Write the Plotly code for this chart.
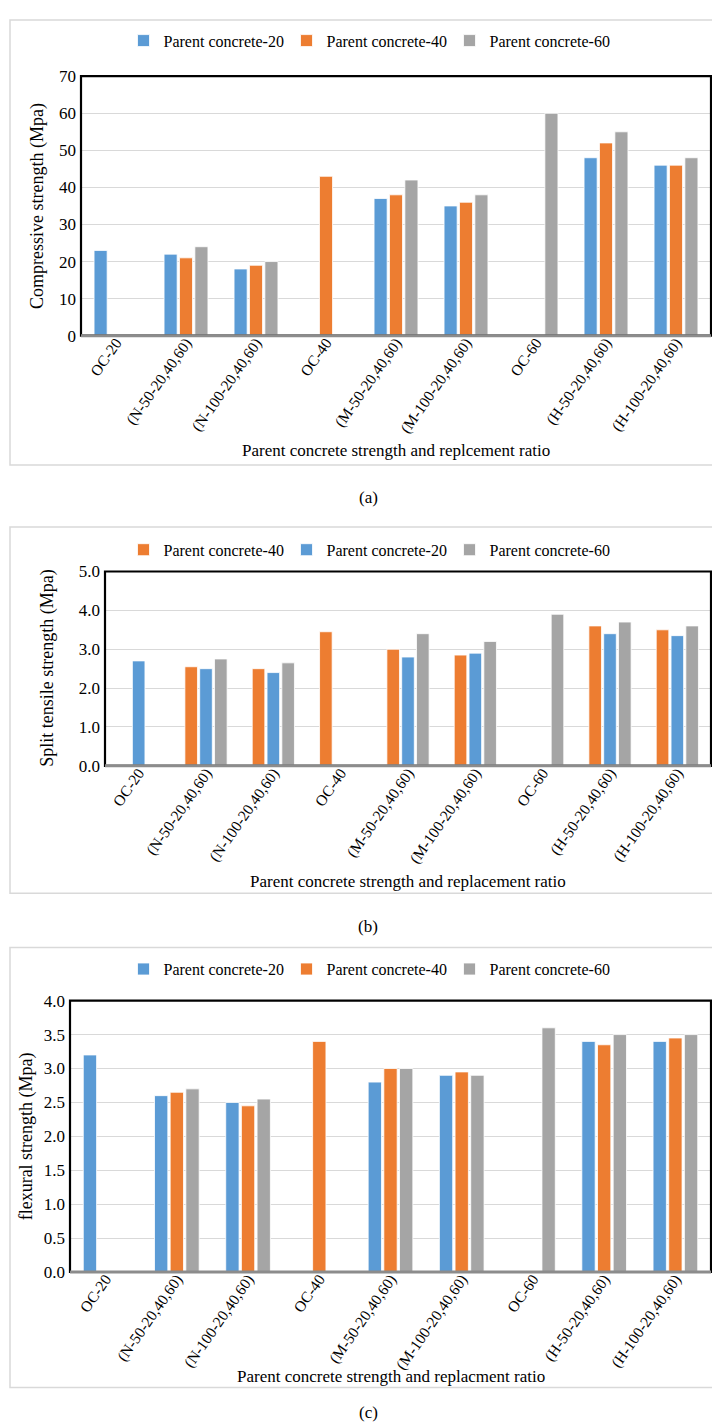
import plotly.graph_objects as go

W, H = 720, 1423

categories = ["OC-20", "(N-50-20,40,60)", "(N-100-20,40,60)", "OC-40", "(M-50-20,40,60)",
              "(M-100-20,40,60)", "OC-60", "(H-50-20,40,60)", "(H-100-20,40,60)"]

# (a) Compressive strength (MPa)
comp_pc20 = [23, 22, 18, None, 37, 35, None, 48, 46]
comp_pc40 = [None, 21, 19, 43, 38, 36, None, 52, 46]
comp_pc60 = [None, 24, 20, None, 42, 38, 60, 55, 48]

# (b) Split tensile strength (MPa) - legend order 40, 20, 60
split_pc40 = [None, 2.55, 2.5, 3.45, 3.0, 2.85, None, 3.6, 3.5]
split_pc20 = [2.7, 2.5, 2.4, None, 2.8, 2.9, None, 3.4, 3.35]
split_pc60 = [None, 2.75, 2.65, None, 3.4, 3.2, 3.9, 3.7, 3.6]

# (c) Flexural strength (MPa)
flex_pc20 = [3.2, 2.6, 2.5, None, 2.8, 2.9, None, 3.4, 3.4]
flex_pc40 = [None, 2.65, 2.45, 3.4, 3.0, 2.95, None, 3.35, 3.45]
flex_pc60 = [None, 2.7, 2.55, None, 3.0, 2.9, 3.6, 3.5, 3.5]

BLUE, ORANGE, GRAY = "#5B9BD5", "#ED7D31", "#A5A5A5"
FONT = "'Liberation Serif', 'Times New Roman', 'DejaVu Serif', serif"

def py(px):
    return 1 - px / H

def pxx(px):
    return px / W

fig = go.Figure()

def add_bar(name, vals, color, ax, leg):
    fig.add_trace(go.Bar(
        x=categories, y=vals, name=name,
        marker=dict(color=color, line=dict(color="white", width=0.8)),
        xaxis="x" + ax, yaxis="y" + ax, legend=leg,
    ))

add_bar("Parent concrete-20", comp_pc20, BLUE, "", "legend")
add_bar("Parent concrete-40", comp_pc40, ORANGE, "", "legend")
add_bar("Parent concrete-60", comp_pc60, GRAY, "", "legend")

add_bar("Parent concrete-40", split_pc40, ORANGE, "2", "legend2")
add_bar("Parent concrete-20", split_pc20, BLUE, "2", "legend2")
add_bar("Parent concrete-60", split_pc60, GRAY, "2", "legend2")

add_bar("Parent concrete-20", flex_pc20, BLUE, "3", "legend3")
add_bar("Parent concrete-40", flex_pc40, ORANGE, "3", "legend3")
add_bar("Parent concrete-60", flex_pc60, GRAY, "3", "legend3")

panels = [
    dict(s="", l=73, t=60, b=323, yr=[0, 70], dt=10, fmt="d", bt=3, bb=454, leg=24,
         ytitle="Compressive strength (Mpa)", ytx=30,
         xtitle="Parent concrete strength and replcement ratio", xty=439,
         cap="(a)", capy=487),
    dict(s="2", l=97, t=562, b=759, yr=[0, 5], dt=1, fmt=".1f", bt=517, bb=888, leg=540,
         ytitle="Split tensile strength (Mpa)", ytx=40,
         xtitle="Parent concrete strength and replacement ratio", xty=876,
         cap="(b)", capy=922),
    dict(s="3", l=62, t=997, b=1272, yr=[0, 4], dt=0.5, fmt=".1f", bt=943, bb=1389, leg=965,
         ytitle="flexural strength (Mpa)", ytx=18,
         xtitle="Parent concrete strength and replacment ratio", xty=1378,
         cap="(c)", capy=1414),
]

R = 703
shapes = []
annotations = []
layout = {}
for i, p in enumerate(panels):
    s = p["s"]
    layout["xaxis" + s] = dict(
        domain=[pxx(p["l"]), pxx(R)], anchor="y" + s,
        tickangle=-55, tickfont=dict(family=FONT, size=15.5, color="black"),
        showgrid=False, showline=False, ticks="", zeroline=False, fixedrange=True,
        ticklabelstandoff=-6,
    )
    layout["yaxis" + s] = dict(
        domain=[py(p["b"]), py(p["t"])], anchor="x" + s,
        range=p["yr"], dtick=p["dt"], tickformat=p["fmt"],
        tickfont=dict(family=FONT, size=17, color="black"),
        showgrid=True, gridcolor="#D9D9D9", gridwidth=1,
        showline=False, zeroline=False, ticks="", ticklabelstandoff=4,
    )
    legname = "legend" if s == "" else "legend" + s
    layout[legname] = dict(
        orientation="h", x=0.5, xanchor="center", y=py(p["leg"]), yanchor="middle",
        font=dict(family=FONT, size=16, color="black"), bgcolor="rgba(0,0,0,0)",
        traceorder="normal", entrywidth=118, entrywidthmode="pixels", itemwidth=30,
    )
    shapes.append(dict(type="rect", xref="paper", yref="paper",
                       x0=pxx(2), x1=pxx(717), y0=py(p["bb"]), y1=py(p["bt"]),
                       line=dict(color="#D9D9D9", width=1.5)))
    shapes.append(dict(type="rect", xref="x" + s + " domain", yref="y" + s + " domain",
                       x0=0, x1=1, y0=0, y1=1, line=dict(color="black", width=2.2)))
    shapes.append(dict(type="line", xref="x" + s + " domain", yref="y" + s + " domain",
                       x0=0, x1=1, y0=0, y1=0, line=dict(color="#8C8C8C", width=3)))
    annotations.append(dict(text=p["ytitle"], xref="paper", yref="paper",
                            x=pxx(p["ytx"]), y=py((p["t"] + p["b"]) / 2), textangle=-90,
                            showarrow=False, xanchor="center", yanchor="middle",
                            font=dict(family=FONT, size=18, color="black")))
    annotations.append(dict(text=p["xtitle"], xref="paper", yref="paper",
                            x=pxx((p["l"] + R) / 2), y=py(p["xty"]),
                            showarrow=False, xanchor="center", yanchor="middle",
                            font=dict(family=FONT, size=17, color="black")))
    annotations.append(dict(text=p["cap"], xref="paper", yref="paper",
                            x=0.5, y=py(p["capy"]),
                            showarrow=False, xanchor="center", yanchor="middle",
                            font=dict(family=FONT, size=17, color="black")))

fig.update_layout(
    width=W, height=H, margin=dict(l=0, r=0, t=0, b=0),
    paper_bgcolor="white", plot_bgcolor="white",
    barmode="group", bargap=0.34, bargroupgap=0.15,
    font=dict(family=FONT),
    shapes=shapes, annotations=annotations, **layout,
)

fig.write_html("out.html")
